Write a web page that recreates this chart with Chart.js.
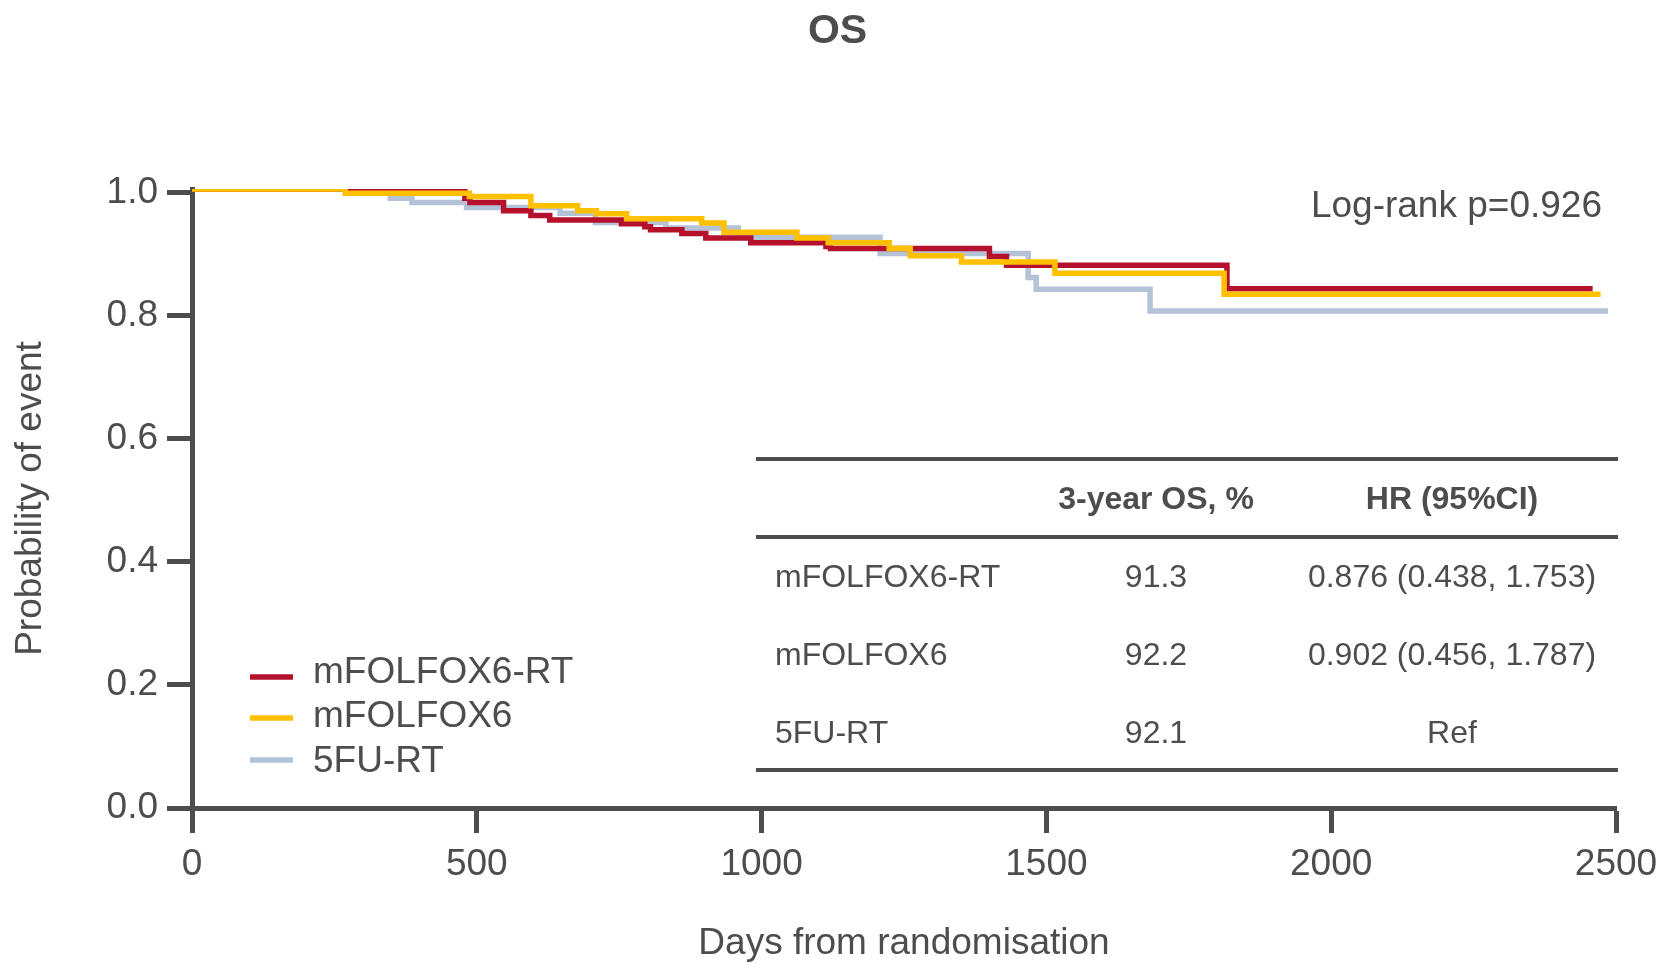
<!DOCTYPE html>
<html>
<head>
<meta charset="utf-8">
<script src="https://cdn.jsdelivr.net/npm/chart.js@4.4.1/dist/chart.umd.min.js"></script>
<style>
  html, body { margin: 0; padding: 0; background: #ffffff; }
  #wrap { position: relative; width: 1675px; height: 963px; }
  canvas { display: block; }
</style>
</head>
<body>
<div id="wrap"><canvas id="c" width="1675" height="963"></canvas></div>
<script>
// ---------------- data ----------------
const chartTitle = 'OS';
const seriesNames = ['mFOLFOX6-RT', 'mFOLFOX6', '5FU-RT'];

const fox6rtDays = [0, 479, 488, 547, 595, 628, 754, 795, 805, 860, 902, 981, 1113, 1121, 1400, 1430, 1817, 2459];
const fox6rtSurv = [1.0, 0.985, 0.978, 0.965, 0.957, 0.950, 0.944, 0.939, 0.934, 0.928, 0.921, 0.913, 0.907, 0.904, 0.891, 0.877, 0.839, 0.839];

const fox6Days = [0, 269, 487, 595, 677, 710, 763, 895, 934, 1062, 1117, 1224, 1261, 1351, 1515, 1812, 2473];
const fox6Surv = [1.0, 0.993, 0.988, 0.973, 0.965, 0.960, 0.952, 0.945, 0.930, 0.921, 0.913, 0.904, 0.892, 0.882, 0.864, 0.830, 0.830];

const fuRtDays = [0, 348, 386, 482, 646, 708, 832, 959, 1208, 1468, 1482, 1682, 2486];
const fuRtSurv = [1.0, 0.985, 0.978, 0.970, 0.961, 0.946, 0.937, 0.922, 0.896, 0.857, 0.838, 0.803, 0.803];

const xTicks = [0, 500, 1000, 1500, 2000, 2500];
const xTickLabels = ['0', '500', '1000', '1500', '2000', '2500'];
const yTicks = [0, 0.2, 0.4, 0.6, 0.8, 1.0];
const yTickLabels = ['0.0', '0.2', '0.4', '0.6', '0.8', '1.0'];

const tableHeader = ['', '3-year OS, %', 'HR (95%CI)'];
const tableRows = [
  ['mFOLFOX6-RT', '91.3', '0.876 (0.438, 1.753)'],
  ['mFOLFOX6', '92.2', '0.902 (0.456, 1.787)'],
  ['5FU-RT', '92.1', 'Ref']
];
const pValueText = 'Log-rank p=0.926';

// ---------------- styles ----------------
const FONT = '"Liberation Sans", Arial, Helvetica, sans-serif';
const INK = '#4d4d4d';
const colors = ['#b5112c', '#ffc000', '#b4c2d8'];

function pts(days, surv) { return days.map((d, i) => ({ x: d, y: surv[i] })); }
function labelFor(ticks, labels, v) {
  const i = ticks.findIndex(t => Math.abs(t - v) < 1e-9);
  return i >= 0 ? labels[i] : '';
}

const datasets = [
  { label: seriesNames[0], data: pts(fox6rtDays, fox6rtSurv), borderColor: colors[0], order: 1 },
  { label: seriesNames[1], data: pts(fox6Days, fox6Surv), borderColor: colors[1], order: 0 },
  { label: seriesNames[2], data: pts(fuRtDays, fuRtSurv), borderColor: colors[2], order: 2 }
].map(d => Object.assign(d, {
  yAxisID: 'yData', stepped: 'before', borderWidth: 5.5, pointRadius: 0,
  fill: false, tension: 0, borderCapStyle: 'butt', borderJoinStyle: 'miter'
}));

// ---------------- overlay drawing: title, legend, table, p-value ----------------
const overlay = {
  id: 'overlay',
  afterDraw(chart) {
    const ctx = chart.ctx;
    ctx.save();
    // title, centred on the whole canvas
    ctx.fillStyle = INK;
    ctx.font = 'bold 41px ' + FONT;
    ctx.textAlign = 'center';
    ctx.textBaseline = 'alphabetic';
    ctx.fillText(chartTitle, chart.width / 2, 42.5);

    // p-value
    ctx.font = '37px ' + FONT;
    ctx.textAlign = 'right';
    ctx.fillText(pValueText, 1602, 217);

    // legend
    const legY = [677, 718, 760];
    const legTextY = [673, 717, 762];
    for (let i = 0; i < seriesNames.length; i++) {
      ctx.strokeStyle = colors[i];
      ctx.lineWidth = 5.5;
      ctx.beginPath();
      ctx.moveTo(250, legY[i]);
      ctx.lineTo(293, legY[i]);
      ctx.stroke();
      ctx.fillStyle = INK;
      ctx.font = '37px ' + FONT;
      ctx.textAlign = 'left';
      ctx.textBaseline = 'middle';
      ctx.fillText(seriesNames[i], 313, legTextY[i]);
    }

    // table rules
    ctx.strokeStyle = INK;
    ctx.lineWidth = 4;
    [459, 537, 770].forEach(y => {
      ctx.beginPath(); ctx.moveTo(756, y); ctx.lineTo(1618, y); ctx.stroke();
    });
    // header
    const colX = [775, 1156, 1452];
    ctx.fillStyle = INK;
    ctx.textBaseline = 'middle';
    ctx.font = 'bold 32px ' + FONT;
    ctx.textAlign = 'center';
    ctx.fillText(tableHeader[1], colX[1], 500);
    ctx.fillText(tableHeader[2], colX[2], 500);
    // rows
    const rowY = [578, 656, 734];
    ctx.font = '32px ' + FONT;
    tableRows.forEach((r, i) => {
      ctx.textAlign = 'left';
      ctx.fillText(r[0], colX[0], rowY[i]);
      ctx.textAlign = 'center';
      ctx.fillText(r[1], colX[1], rowY[i]);
      ctx.fillText(r[2], colX[2], rowY[i]);
    });
    ctx.restore();
  }
};

const axisGrid = { display: true, drawOnChartArea: false, drawTicks: true, tickLength: 25, tickWidth: 5, tickColor: INK };
const axisBorder = { display: true, width: 5, color: INK };

new Chart(document.getElementById('c'), {
  type: 'line',
  data: { datasets },
  options: {
    responsive: false,
    animation: false,
    events: [],
    layout: { padding: { left: 0, top: 189, right: 59, bottom: 0 } },
    plugins: {
      legend: { display: false },
      tooltip: { enabled: false },
      title: { display: false }
    },
    scales: {
      x: {
        type: 'linear', min: 0, max: 2500,
        afterBuildTicks: s => { s.ticks = xTicks.map(v => ({ value: v })); },
        afterFit: s => { s.height = 155; },
        grid: axisGrid, border: axisBorder,
        ticks: { color: INK, padding: 10, font: { family: FONT, size: 37 }, maxRotation: 0, autoSkip: false,
                 callback: v => labelFor(xTicks, xTickLabels, v) },
        title: { display: true, text: 'Days from randomisation', color: INK,
                 font: { family: FONT, size: 37, lineHeight: 1 }, padding: { top: 0, bottom: 0.5 } }
      },
      y: {
        type: 'linear', position: 'left', min: 0, max: 1.0065,
        afterBuildTicks: s => { s.ticks = yTicks.map(v => ({ value: v })); },
        afterFit: s => { s.width = 192; },
        grid: axisGrid, border: axisBorder,
        ticks: { color: INK, padding: 9, font: { family: FONT, size: 37 },
                 callback: v => labelFor(yTicks, yTickLabels, v) },
        title: { display: true, text: 'Probability of event', color: INK,
                 font: { family: FONT, size: 37, lineHeight: 1 }, padding: { top: 12.5, bottom: 0 } }
      },
      yData: { type: 'linear', position: 'left', min: 0, max: 1.0, display: false }
    }
  },
  plugins: [overlay]
});
</script>
</body>
</html>
